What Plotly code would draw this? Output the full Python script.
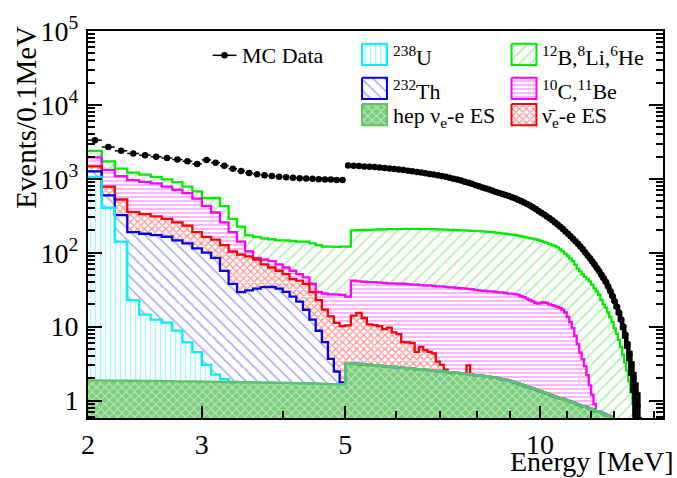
import numpy as np
import plotly.graph_objects as go

# ---- binning: 0.1 MeV bins starting at 2 MeV ----
e_start = 2.0
bin_width = 0.1

# ---- stacked background components, events per 0.1 MeV (first bin at 2.0 MeV) ----
hep_es = [1.87, 1.86, 1.86, 1.85, 1.84, 1.84, 1.83, 1.82, 1.82, 1.81,
          1.80, 1.79, 1.79, 1.78, 1.77, 1.76, 1.76, 1.75, 1.74, 1.73,
          1.73, 1.72, 1.71, 1.70, 1.70, 1.69, 1.68, 1.67, 1.67, 1.66,
          3.20, 3.16, 3.12, 3.08, 3.04, 3.00, 2.96, 2.92, 2.88, 2.84,
          2.80, 2.76, 2.72, 2.69, 2.66, 2.63, 2.60, 2.57, 2.54, 2.51,
          2.48, 2.45, 2.42, 2.39, 2.36, 2.33, 2.30, 2.27, 2.24, 2.21,
          2.18, 2.15, 2.12, 2.09, 2.05, 2.02, 1.98, 1.94, 1.90, 1.86,
          1.80, 1.76, 1.71, 1.66, 1.61, 1.56, 1.51, 1.46, 1.42, 1.38,
          1.34, 1.30, 1.26, 1.22, 1.18, 1.14, 1.11, 1.08, 1.05, 1.02,
          0.99, 0.96, 0.94, 0.91, 0.89, 0.86, 0.84, 0.82, 0.80, 0.78,
          0.76, 0.74, 0.72, 0.70, 0.68, 0.66, 0.64, 0.62, 0.60, 0.58,
          0.56, 0.54, 0.52, 0.50, 0.48, 0.46, 0.44, 0.42, 0.40, 0.38,
          0.36, 0.34, 0.32, 0.30, 0.28]

u238 = [1060, 404, 139, 21.0, 12.7, 10.6, 9.5, 7.0, 4.3, 2.7, 1.24, 0.45, 0.16]

th232 = [200, 191, 182, 167, 166, 160, 153, 138, 128, 110,
         97, 83, 55, 36, 27.6, 29.2, 30.8, 32.5, 32.6, 30.9,
         27.7, 23.7, 20.1, 15.2, 10.7, 7.1, 4.5, 2.0, 0.8, 0.1]

anti_nu_es = [208, 188, 202, 167, 152, 138, 123, 111, 98, 75,
              64, 65, 70, 66, 64.6, 58, 48.4, 35.2, 28.7, 24.4,
              22, 18.6, 20.2, 21.1, 17, 14.1, 10.8, 10.1, 8.8, 8.4,
              7.2, 10.9, 12.2, 10.0, 7.7, 7.5, 7.2, 6.3, 6.8, 5.5,
              5.1, 3.4, 3.4, 3.3, 1.9, 2.7, 2.2, 2.0, 1.8, 0.85,
              0.56, 0.16, 0, 0, 0, 0, 0, 0.71]

c10_be11 = [477, 540, 559, 604, 578, 556, 498, 453, 408, 350,
            266, 200, 131, 86, 47, 15, 4, 11.5, 14, 12.5,
            11.6, 13, 9.4, 8.4, 8.6, 6.5, 11.1, 13.5, 16, 16.8,
            15, 27.9, 25.7, 27.4, 29.3, 29.5, 29.3, 29.8, 28.8, 30.2,
            30.1, 31.9, 31.4, 31, 32.5, 31.2, 31.2, 31.5, 31.2, 31.6,
            32, 31.9, 31.6, 31.6, 31.1, 30.7, 30.7, 29.5, 29.8, 29.3,
            28.8, 28.4, 28.4, 27.9, 28, 27.5, 27, 27.1, 26.6, 26.1,
            26.2, 25.7, 25.3, 24.3, 23.4, 22.4, 21.5, 20.5, 19.6, 19.1,
            19.7, 20.2, 19.7, 18.8, 18.3, 17.9, 17.4, 16.9, 16, 14.5,
            12.5, 10.5, 8.6, 6.6, 4.9, 3.6, 2.8, 2.1, 1.4, 0.82,
            0.44, 0.16]

b12_li8_he6 = [441, 400, 286, 249, 229, 196, 195, 189, 145, 135,
               120, 200, 168, 97, 84, 68, 79, 75, 75, 77.5,
               84, 87, 89.6, 94.6, 96, 97.6, 93, 93.7, 92.7, 94,
               95.6, 158, 161, 162.5, 164, 165, 166.5, 168, 169.5, 169.5,
               171, 172, 172.5, 173, 173, 173.5, 173, 173, 172.5, 172,
               171, 170.5, 170, 169, 168.5, 168, 167, 166.5, 166, 165.5,
               165, 163.5, 162.5, 161, 159, 157.5, 156, 154, 152.5, 151,
               148, 146.5, 144, 141, 139, 137, 135, 133, 131, 128.5,
               124, 118.5, 115, 112, 108.5, 105, 99.5, 93, 87, 81.5,
               76.5, 71.5, 67.5, 61.5, 55.2, 51.5, 47.4, 44.1, 41.8, 39.4,
               35.8, 32.1, 29.3, 26.3, 22.3, 19.3, 17.4, 14.9, 12.9, 10.9,
               8.9, 7.5, 6.1, 4.8, 3.7, 2.8, 2.1, 1.4, 0.9, 0.52]

# ---- simulated data, events per 0.1 MeV (first bin at 2.0 MeV) ----
mc_data = [3330, 2690, 2390, 2200, 2090, 1990, 1910, 1820, 1725, 1590,
           1800, 1650, 1500, 1370, 1275, 1200, 1150, 1120, 1090, 1070,
           1050, 1035, 1020, 1010, 1000, 990, 980, 975, 965, 960,
           1515, 1500, 1485, 1470, 1455, 1440, 1420, 1400, 1380, 1360,
           1340, 1315, 1290, 1265, 1240, 1215, 1190, 1165, 1140, 1115,
           1090, 1065, 1035, 1005, 975, 945, 915, 885, 855, 820,
           790, 765, 740, 715, 690, 665, 645, 625, 605, 585,
           565, 545, 522, 500, 478, 456, 434, 412, 390, 368,
           348, 328, 310, 292, 274, 257, 240, 224, 209, 194,
           180, 167, 155, 143, 132, 121, 111, 101, 92, 84,
           76, 69, 62, 56, 50, 45, 40, 35, 30, 26,
           22, 18.5, 15.5, 12.5, 10, 7.8, 5.8, 4.2, 3.0, 2.0,
           1.3, 0.85, 0.55]

y_tick_vals = [1, 10, 100, 1000, 10000, 100000]
y_tick_text = ["1", "10", "10<sup>2</sup>", "10<sup>3</sup>", "10<sup>4</sup>", "10<sup>5</sup>"]
x_tick_vals = [2, 3, 5, 10]
x_tick_text = ["2", "3", "5", "10"]

# ---- styles, bottom of the stack first ----
styles = [
    dict(name="hep", line="rgb(100,192,100)",
         pat=dict(shape="x", fgcolor="white", bgcolor="rgb(122,206,122)", size=6, solidity=0.35)),
    dict(name="U", line="rgb(0,240,255)",
         pat=dict(shape="|", fgcolor="rgb(80,240,255)", bgcolor="white", size=5, solidity=0.28)),
    dict(name="Th", line="rgb(0,0,235)",
         pat=dict(shape="\\", fgcolor="rgb(90,90,230)", bgcolor="white", size=8, solidity=0.2)),
    dict(name="nu", line="rgb(255,0,0)",
         pat=dict(shape="x", fgcolor="rgb(255,40,40)", bgcolor="white", size=5, solidity=0.45)),
    dict(name="C", line="rgb(255,0,255)",
         pat=dict(shape="-", fgcolor="rgb(255,80,255)", bgcolor="white", size=4, solidity=0.42)),
    dict(name="B", line="rgb(0,235,0)",
         pat=dict(shape="/", fgcolor="rgb(100,225,100)", bgcolor="white", size=8, solidity=0.22)),
]

components = [hep_es, u238, th232, anti_nu_es, c10_be11, b12_li8_he6]
n_bins = len(hep_es)
edges = e_start + bin_width * np.arange(n_bins + 1)

padded = np.zeros((len(components), n_bins))
for i, comp in enumerate(components):
    padded[i, :len(comp)] = comp
stack = np.cumsum(padded, axis=0)


def step_y(vals):
    return np.append(vals, vals[-1])


fig = go.Figure()

# floor of the stack (well below the visible range)
fig.add_trace(go.Scatter(x=edges, y=np.full(n_bins + 1, 1e-3), mode="lines",
                         line=dict(width=0), showlegend=False, hoverinfo="skip"))

# hatched fills between successive stack levels
for lvl, st in zip(stack, styles):
    fig.add_trace(go.Scatter(x=edges, y=step_y(lvl), mode="lines", line_shape="hv",
                             line=dict(width=0, color=st["line"]), fill="tonexty",
                             fillcolor="rgba(0,0,0,0)", fillpattern=st["pat"],
                             showlegend=False, hoverinfo="skip"))

# outlines, top of the stack first so the lower ones sit on top
for lvl, st in reversed(list(zip(stack, styles))):
    fig.add_trace(go.Scatter(x=edges, y=step_y(lvl), mode="lines", line_shape="hv",
                             line=dict(width=2.3, color=st["line"]),
                             showlegend=False, hoverinfo="skip"))

# MC data points at bin centres with Poisson uncertainties
centers = e_start + bin_width * (np.arange(len(mc_data)) + 0.5)
fig.add_trace(go.Scatter(x=centers, y=mc_data, mode="markers",
                         marker=dict(color="black", size=6.5, symbol="circle"),
                         error_x=dict(type="constant", value=bin_width / 2, width=0,
                                      thickness=1.5, color="black"),
                         error_y=dict(type="data", array=np.sqrt(mc_data), width=0,
                                      thickness=2.5, color="black"),
                         showlegend=False))

# ---- legend drawn on a pixel-coordinate overlay ----
leg_font = dict(family="Liberation Serif", size=22, color="black")
legend_items = [
    (363, 33, "<sup>238</sup>U", 1),
    (363, 68, "<sup>232</sup>Th", 2),
    (363, 95, "hep ν<sub>e</sub>-e ES", 0),
    (513, 33, "<sup>12</sup>B,<sup>8</sup>Li,<sup>6</sup>He", 5),
    (513, 68, "<sup>10</sup>C,<sup>11</sup>Be", 4),
    (513, 95, "ν\u0304<sub>e</sub>-e ES", 3),
]
sw_w, sw_h = 25, 22
annotations = []
for x0, y0, label, si in legend_items:
    st = styles[si]
    fig.add_trace(go.Scatter(x=[x0, x0 + sw_w, x0 + sw_w, x0, x0],
                             y=[y0, y0, y0 + sw_h, y0 + sw_h, y0],
                             mode="lines", fill="toself", fillcolor="rgba(0,0,0,0)",
                             fillpattern=st["pat"], line=dict(color=st["line"], width=2),
                             xaxis="x2", yaxis="y2", showlegend=False, hoverinfo="skip"))
    annotations.append(dict(x=x0 + sw_w + 4, y=y0 + sw_h / 2 + 2, xref="x2", yref="y2",
                            text=label, showarrow=False, xanchor="left", yanchor="middle",
                            font=leg_font))

fig.add_trace(go.Scatter(x=[213, 237], y=[45, 45], mode="lines",
                         line=dict(color="black", width=1.5),
                         xaxis="x2", yaxis="y2", showlegend=False, hoverinfo="skip"))
fig.add_trace(go.Scatter(x=[225], y=[45], mode="markers",
                         marker=dict(color="black", size=6.5),
                         xaxis="x2", yaxis="y2", showlegend=False, hoverinfo="skip"))
annotations.append(dict(x=241, y=45, xref="x2", yref="y2", text="MC Data", showarrow=False,
                        xanchor="left", yanchor="middle", font=leg_font))

# axis titles
annotations.append(dict(x=-0.109, y=1.018, xref="paper", yref="paper", text="Events/0.1MeV",
                        textangle=-90, showarrow=False, xanchor="center", yanchor="top",
                        font=dict(family="Liberation Serif", size=29, color="black")))
annotations.append(dict(x=1.02, y=-0.156, xref="paper", yref="paper", text="Energy [MeV]",
                        showarrow=False, xanchor="right", yanchor="bottom", borderpad=0,
                        font=dict(family="Liberation Serif", size=28, color="black")))

minor_y = [m * 10 ** d for d in range(-1, 5) for m in range(2, 10) if 0.6 < m * 10 ** d < 1e5]

fig.update_layout(
    width=677, height=478,
    margin=dict(l=88, r=12, t=20, b=60),
    paper_bgcolor="white", plot_bgcolor="white",
    font=dict(family="Liberation Serif", size=28, color="black"),
    showlegend=False,
    xaxis=dict(type="log", range=[np.log10(2), np.log10(15.5)],
               tickmode="array", tickvals=x_tick_vals, ticktext=x_tick_text,
               ticks="inside", ticklen=12, tickwidth=1.5, tickcolor="black",
               minor=dict(tickmode="array", tickvals=[4, 6, 7, 8, 9, 11, 12, 13, 14, 15],
                          ticks="inside", ticklen=7, tickwidth=1.5, tickcolor="black"),
               showline=True, linewidth=2, linecolor="black", mirror=True,
               showgrid=False, zeroline=False, ticklabelstandoff=0,
               tickfont=dict(family="Liberation Serif", size=28, color="black")),
    yaxis=dict(type="log", range=[np.log10(0.58), 5],
               tickmode="array", tickvals=y_tick_vals, ticktext=y_tick_text,
               ticks="inside", ticklen=14, tickwidth=1.5, tickcolor="black",
               minor=dict(tickmode="array", tickvals=minor_y,
                          ticks="inside", ticklen=7, tickwidth=1.5, tickcolor="black"),
               showline=True, linewidth=2, linecolor="black", mirror="ticks",
               showgrid=False, zeroline=False, ticklabelstandoff=2,
               tickfont=dict(family="Liberation Serif", size=28, color="black")),
    xaxis2=dict(overlaying="x", range=[88, 665], visible=False, fixedrange=True),
    yaxis2=dict(overlaying="y", range=[418, 20], visible=False, fixedrange=True),
    annotations=annotations,
)

fig.write_html("out.html")
